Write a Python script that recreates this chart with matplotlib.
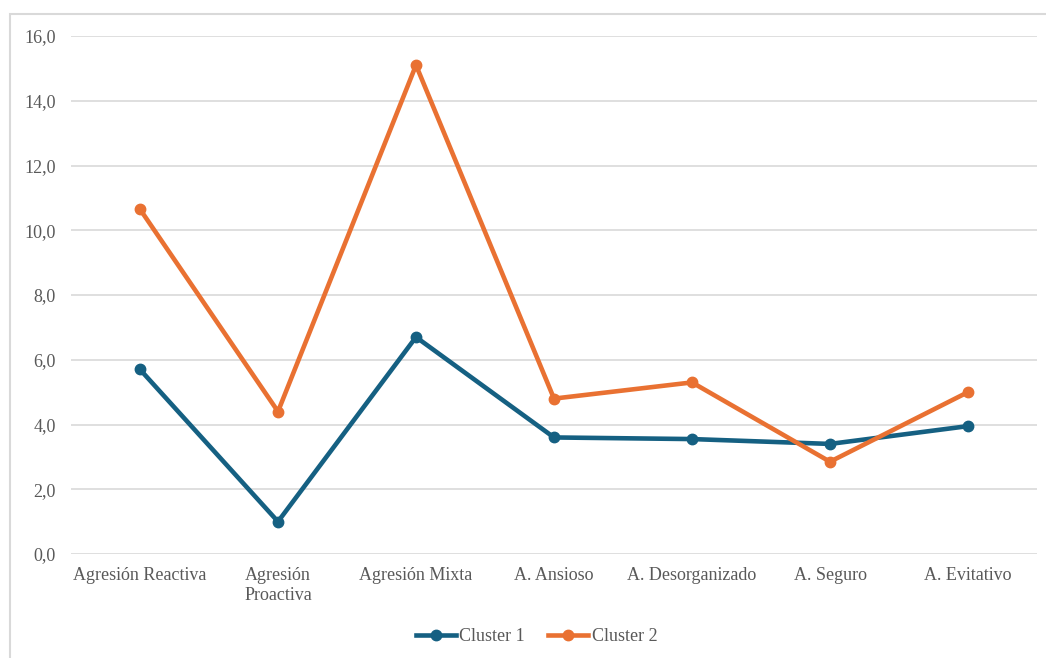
import matplotlib.pyplot as plt
from matplotlib.patches import Rectangle
from matplotlib.ticker import FuncFormatter
import numpy as np

categories = ['Agresión Reactiva', 'Agresión\nProactiva', 'Agresión Mixta', 'A. Ansioso',
              'A. Desorganizado', 'A. Seguro', 'A. Evitativo']
cluster_1 = [5.7, 1.0, 6.7, 3.6, 3.55, 3.4, 3.95]
cluster_2 = [10.65, 4.4, 15.1, 4.8, 5.3, 2.85, 5.0]

plt.rcParams['font.family'] = ['Liberation Serif', 'DejaVu Serif']

blue = '#156082'
orange = '#E97132'
grey_text = '#595959'

fig = plt.figure(figsize=(10.46, 6.58), dpi=100)
ax = fig.add_axes([71 / 1046, 104 / 658, 966 / 1046, 518 / 658])

# Outer chart frame, partly cut off at the right and bottom
fig.patches.append(Rectangle((10 / 1046, -0.05), 1.2, 1 - 14 / 658 + 0.05,
                             transform=fig.transFigure, fill=False,
                             edgecolor='#D9D9D9', linewidth=1.5))

x = np.arange(len(categories))
ax.plot(x, cluster_1, color=blue, lw=3.3, marker='o', ms=7.5, label='Cluster 1', zorder=3)
ax.plot(x, cluster_2, color=orange, lw=3.3, marker='o', ms=7.5, label='Cluster 2', zorder=3)

ax.set_xlim(-0.5, len(categories) - 0.5)
ax.set_ylim(0, 16)
ax.set_yticks(np.arange(0, 17, 2))
ax.yaxis.set_major_formatter(FuncFormatter(lambda v, p: f'{v:.1f}'.replace('.', ',')))
ax.set_xticks(x)
ax.set_xticklabels(categories, linespacing=1.3)

ax.grid(axis='y', color='#D9D9D9', lw=1.2)
ax.set_axisbelow(True)
for s in ax.spines.values():
    s.set_visible(False)
ax.tick_params(axis='both', length=0, labelsize=13, colors=grey_text)
ax.tick_params(axis='x', pad=9)
ax.tick_params(axis='y', pad=11)

ax.legend(loc='center', bbox_to_anchor=(0.482, -0.16), ncol=2, frameon=False,
          fontsize=13, labelcolor=grey_text, handlelength=2.2,
          handletextpad=0.2, columnspacing=1.3)

fig.savefig('out.png', dpi=100)
